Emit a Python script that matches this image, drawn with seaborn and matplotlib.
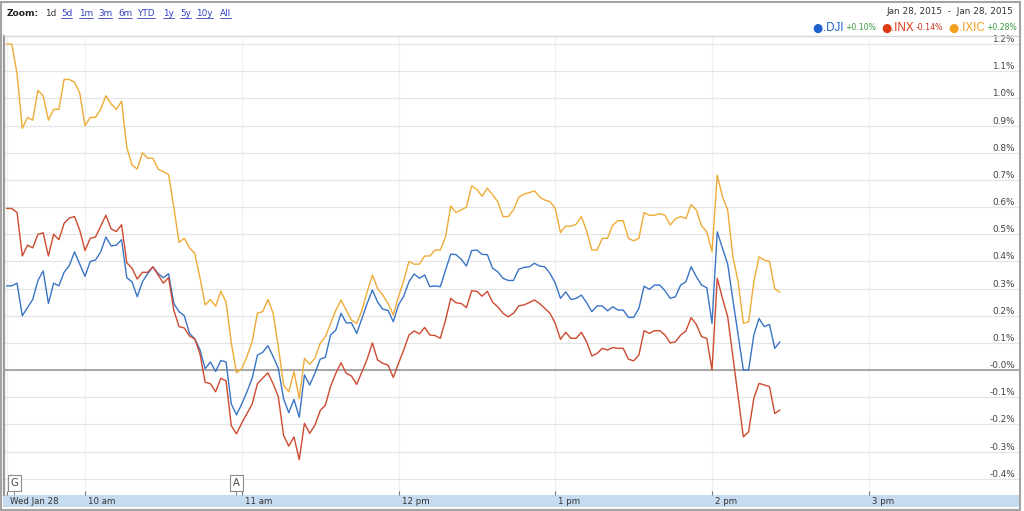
import numpy as np
import pandas as pd
import seaborn as sns
import matplotlib.pyplot as plt
from matplotlib.patches import Rectangle
from matplotlib.lines import Line2D
from matplotlib.transforms import ScaledTranslation

# % change vs previous close, 2-minute samples from 9:30 (Jan 28, 2015)
dji = [0.31, 0.31, 0.32, 0.20, 0.23, 0.26, 0.33, 0.365, 0.245, 0.32, 0.31, 0.36, 0.385, 0.435,
       0.39, 0.345, 0.40, 0.405, 0.435, 0.49, 0.457, 0.46, 0.48, 0.34, 0.325, 0.27, 0.325,
       0.355, 0.38, 0.355, 0.34, 0.355, 0.245, 0.215, 0.20, 0.135, 0.115, 0.075, 0.005, 0.03,
       -0.005, 0.035, 0.03, -0.125, -0.165, -0.125, -0.08, -0.03, 0.055, 0.065, 0.09, 0.05,
       0.006, -0.105, -0.157, -0.108, -0.174, -0.018, -0.055, -0.012, 0.04, 0.047, 0.129, 0.147,
       0.209, 0.174, 0.174, 0.135, 0.19, 0.245, 0.295, 0.25, 0.224, 0.22, 0.178, 0.24, 0.272, 0.325,
       0.354, 0.338, 0.35, 0.307, 0.31, 0.307, 0.368, 0.427, 0.425, 0.408, 0.383, 0.44, 0.442,
       0.426, 0.425, 0.375, 0.362, 0.338, 0.33, 0.33, 0.371, 0.378, 0.38, 0.393, 0.383, 0.38,
       0.356, 0.32, 0.264, 0.288, 0.26, 0.264, 0.276, 0.248, 0.215, 0.236, 0.236, 0.218, 0.233,
       0.221, 0.221, 0.194, 0.194, 0.227, 0.309, 0.297, 0.313, 0.313, 0.292, 0.264, 0.27, 0.313,
       0.325, 0.38, 0.344, 0.313, 0.303, 0.172, 0.509, 0.448, 0.39, 0.258, 0.129, 0.0, 0.0,
       0.129, 0.19, 0.16, 0.168, 0.08, 0.104]
inx = [0.595, 0.595, 0.58, 0.42, 0.46, 0.45, 0.50, 0.505, 0.42, 0.50, 0.48, 0.54, 0.56, 0.565,
       0.515, 0.44, 0.485, 0.49, 0.53, 0.57, 0.52, 0.51, 0.535, 0.395, 0.375, 0.335, 0.36,
       0.36, 0.38, 0.35, 0.32, 0.34, 0.22, 0.16, 0.155, 0.125, 0.115, 0.06, -0.045, -0.05,
       -0.08, -0.03, -0.04, -0.205, -0.235, -0.195, -0.16, -0.125, -0.05, -0.03, -0.01, -0.05,
       -0.098, -0.24, -0.28, -0.246, -0.33, -0.196, -0.233, -0.203, -0.15, -0.129, -0.06, -0.012,
       0.027, -0.012, -0.022, -0.053, -0.006, 0.04, 0.10, 0.037, 0.025, 0.018, -0.027, 0.025,
       0.074, 0.129,
       0.144, 0.133, 0.157, 0.129, 0.127, 0.117, 0.184, 0.264, 0.248, 0.245, 0.23, 0.292, 0.29,
       0.272, 0.29, 0.25, 0.233, 0.209, 0.196, 0.209, 0.236, 0.24, 0.248, 0.258, 0.245, 0.227,
       0.209, 0.172, 0.113, 0.139, 0.117, 0.117, 0.139, 0.104, 0.052, 0.061, 0.08, 0.074, 0.083,
       0.08, 0.08, 0.04, 0.034, 0.055, 0.145, 0.135, 0.145, 0.145, 0.129, 0.10, 0.104, 0.129,
       0.144, 0.193, 0.168, 0.123, 0.117, 0.0, 0.338, 0.264, 0.196, 0.049, -0.098, -0.246, -0.227,
       -0.104, -0.049, -0.055, -0.061, -0.16, -0.147]
ixic = [1.20, 1.20, 1.09, 0.89, 0.93, 0.92, 1.03, 1.01, 0.92, 0.96, 0.96, 1.07, 1.07, 1.06,
        1.02, 0.90, 0.93, 0.93, 0.96, 1.01, 0.98, 0.96, 0.99, 0.82, 0.755, 0.74, 0.80,
        0.78, 0.78, 0.74, 0.73, 0.72, 0.60, 0.47, 0.485, 0.45, 0.43, 0.34, 0.24, 0.26,
        0.235, 0.29, 0.25, 0.10, -0.01, 0.005, 0.05, 0.105, 0.21, 0.215, 0.26, 0.21,
        0.086, -0.055, -0.08, -0.006, -0.105, 0.043, 0.022, 0.043, 0.098, 0.123, 0.172, 0.22,
        0.258, 0.22, 0.184, 0.172, 0.22, 0.288, 0.35, 0.30, 0.276, 0.245, 0.203, 0.27, 0.33, 0.40,
        0.39, 0.39, 0.42, 0.42, 0.442, 0.442, 0.49, 0.604, 0.58, 0.59, 0.60, 0.678, 0.665,
        0.64, 0.67, 0.645, 0.62, 0.565, 0.565, 0.59, 0.636, 0.648, 0.653, 0.66, 0.638, 0.626,
        0.62, 0.595, 0.506, 0.53, 0.53, 0.537, 0.565, 0.513, 0.442, 0.442, 0.485, 0.485, 0.534,
        0.55, 0.55, 0.485, 0.476, 0.485, 0.58, 0.57, 0.57, 0.576, 0.57, 0.534, 0.557, 0.565,
        0.558, 0.61, 0.589, 0.531, 0.509, 0.436, 0.718, 0.638, 0.589, 0.417, 0.325, 0.172, 0.178,
        0.325, 0.417, 0.405, 0.40, 0.30, 0.286]

symbols = ['.DJI', '.INX', '.IXIC']
last_change = ['+0.10%', '-0.14%', '+0.28%']
line_colors = ['#3a74c4', '#cd4a30', '#eeab36']
dot_colors = ['#1d62cc', '#dc3912', '#f5a01c']

hour_ticks = ['09:30', '10:00', '11:00', '12:00', '13:00', '14:00', '15:00']
hour_labels = ['Wed Jan 28', '10 am', '11 am', '12 pm', '1 pm', '2 pm', '3 pm']
pct_ticks = [-0.4, -0.3, -0.2, -0.1, 0.0, 0.1, 0.2, 0.3, 0.4, 0.5, 0.6, 0.7, 0.8, 0.9, 1.0, 1.1, 1.2]
pct_labels = ['-0.4%', '-0.3%', '-0.2%', '-0.1%', '-0.0%', '0.1%', '0.2%', '0.3%', '0.4%',
              '0.5%', '0.6%', '0.7%', '0.8%', '0.9%', '1.0%', '1.1%', '1.2%']
zoom_links = ['5d', '1m', '3m', '6m', 'YTD', '1y', '5y', '10y', 'All']
event_flags = ['G', 'A']
event_times = ['09:33', '10:58']

day = '2015-01-28 '
times = pd.date_range(day + '09:30', periods=len(dji), freq='2min')
df = pd.DataFrame({'time': times, '.DJI': dji, '.INX': inx, '.IXIC': ixic})
df = df.melt(id_vars='time', var_name='symbol', value_name='change')

sns.set_style('white')
plt.rcParams['font.family'] = ['DejaVu Sans']

W, H = 1024, 511
fig = plt.figure(figsize=(W / 100, H / 100), dpi=100, facecolor='white')
ax = fig.add_axes([4 / W, (H - 495) / H, (1019 - 4) / W, (495 - 36) / H])

sns.lineplot(data=df, x='time', y='change', hue='symbol', hue_order=symbols,
             palette=dict(zip(symbols, line_colors)), linewidth=1.0, legend=False, ax=ax)

ax.set_xlim(pd.Timestamp(day + '09:29:00'), pd.Timestamp(day + '15:57:30'))
ax.set_ylim(-0.460, 1.230)
ax.set_xlabel('')
ax.set_ylabel('')

ax.grid(axis='y', color='#e4e4e4', linewidth=0.9)
ax.grid(axis='x', color='#f1f1f1', linewidth=0.9)
ax.axhline(0, color='#9a9a9a', linewidth=1.2, zorder=1.5)

for s in ['right', 'bottom']:
    ax.spines[s].set_visible(False)
ax.spines['top'].set_color('#d6d6d6')
ax.spines['top'].set_linewidth(1)
ax.spines['left'].set_color('#9a9a9a')
ax.spines['left'].set_linewidth(1.6)

# right-hand percentage labels inside the plot
ax.yaxis.tick_right()
ax.set_yticks(pct_ticks)
ax.set_yticklabels(pct_labels)
ax.tick_params(axis='y', length=0, pad=-3, labelsize=6.4, labelcolor='#444444')
for lbl in ax.get_yticklabels():
    lbl.set_ha('right')
    lbl.set_va('bottom')

ax.set_xticks(pd.to_datetime([day + t for t in hour_ticks]))
ax.set_xticklabels(hour_labels)
ax.tick_params(axis='x', direction='in', length=3, width=0.8, color='#777777', pad=1.5,
               labelsize=6.2, labelcolor='#333333', bottom=True)
shift = ScaledTranslation(3 / 100, 0, fig.dpi_scale_trans)
for lbl in ax.get_xticklabels():
    lbl.set_ha('left')
    lbl.set_transform(lbl.get_transform() + shift)

# event flags
for flag, t in zip(event_flags, event_times):
    ax.annotate(flag, xy=(pd.Timestamp(day + t), 0), xycoords=('data', 'axes fraction'),
                xytext=(0, 5), textcoords='offset points', ha='center', va='bottom',
                fontsize=7.2, color='#444444',
                bbox=dict(boxstyle='square,pad=0.3', fc='white', ec='#8c8c8c', lw=0.8),
                arrowprops=dict(arrowstyle='-', color='#8c8c8c', lw=0.8, shrinkA=0, shrinkB=0))

# time band and outer frame
fig.patches.append(Rectangle((3 / W, (H - 507) / H), 1016 / W, 12 / H, transform=fig.transFigure,
                             fc='#c6daf0', ec='none', zorder=-1))
fig.patches.append(Rectangle((1 / W, 1.5 / H), 1019 / W, 508 / H, transform=fig.transFigure,
                             fc='none', ec='#a3a3a3', lw=1.5, zorder=10))


def fy(y):
    return 1 - y / H


# header: zoom links
fig.text(7 / W, fy(13), 'Zoom:', fontsize=6.6, fontweight='bold', color='#222222', va='center')
fig.text(45 / W, fy(13), '1d', fontsize=6.4, color='#333333', va='center')
link_x = [61, 79, 98, 118, 137, 163, 180, 196, 220]
renderer = fig.canvas.get_renderer()
for lx, name in zip(link_x, zoom_links):
    t = fig.text(lx / W, fy(13), name, fontsize=6.4, color='#3340c0', va='center')
    bb = t.get_window_extent(renderer)
    fig.add_artist(Line2D([bb.x0 / W, bb.x1 / W], [(bb.y0 - 0.5) / H] * 2,
                          color='#3340c0', lw=0.6))

fig.text(1013 / W, fy(12), 'Jan 28, 2015  -  Jan 28, 2015', fontsize=6.4, color='#333333',
         ha='right', va='center')

# legend row, built left to right then right-aligned
items = []
x = 0.0
for sym, chg, dc in zip(symbols, last_change, dot_colors):
    pct_col = '#3b9a3b' if chg.startswith('+') else '#cc3322'
    for txt, col, size, fam, gap in [('\u25cf', dc, 8.5, 'DejaVu Sans', 5),
                                     (sym, dc, 8.4, 'Liberation Sans', 0),
                                     (chg, pct_col, 5.6, 'DejaVu Sans', 2)]:
        x += gap
        t = fig.text(x / W, fy(28), txt, fontsize=size, color=col, family=fam, va='center')
        items.append(t)
        x += t.get_window_extent(renderer).width
offset = 1017 - x
for t in items:
    t.set_x(t.get_position()[0] + offset / W)

fig.savefig('out.png', dpi=100, facecolor='white')
